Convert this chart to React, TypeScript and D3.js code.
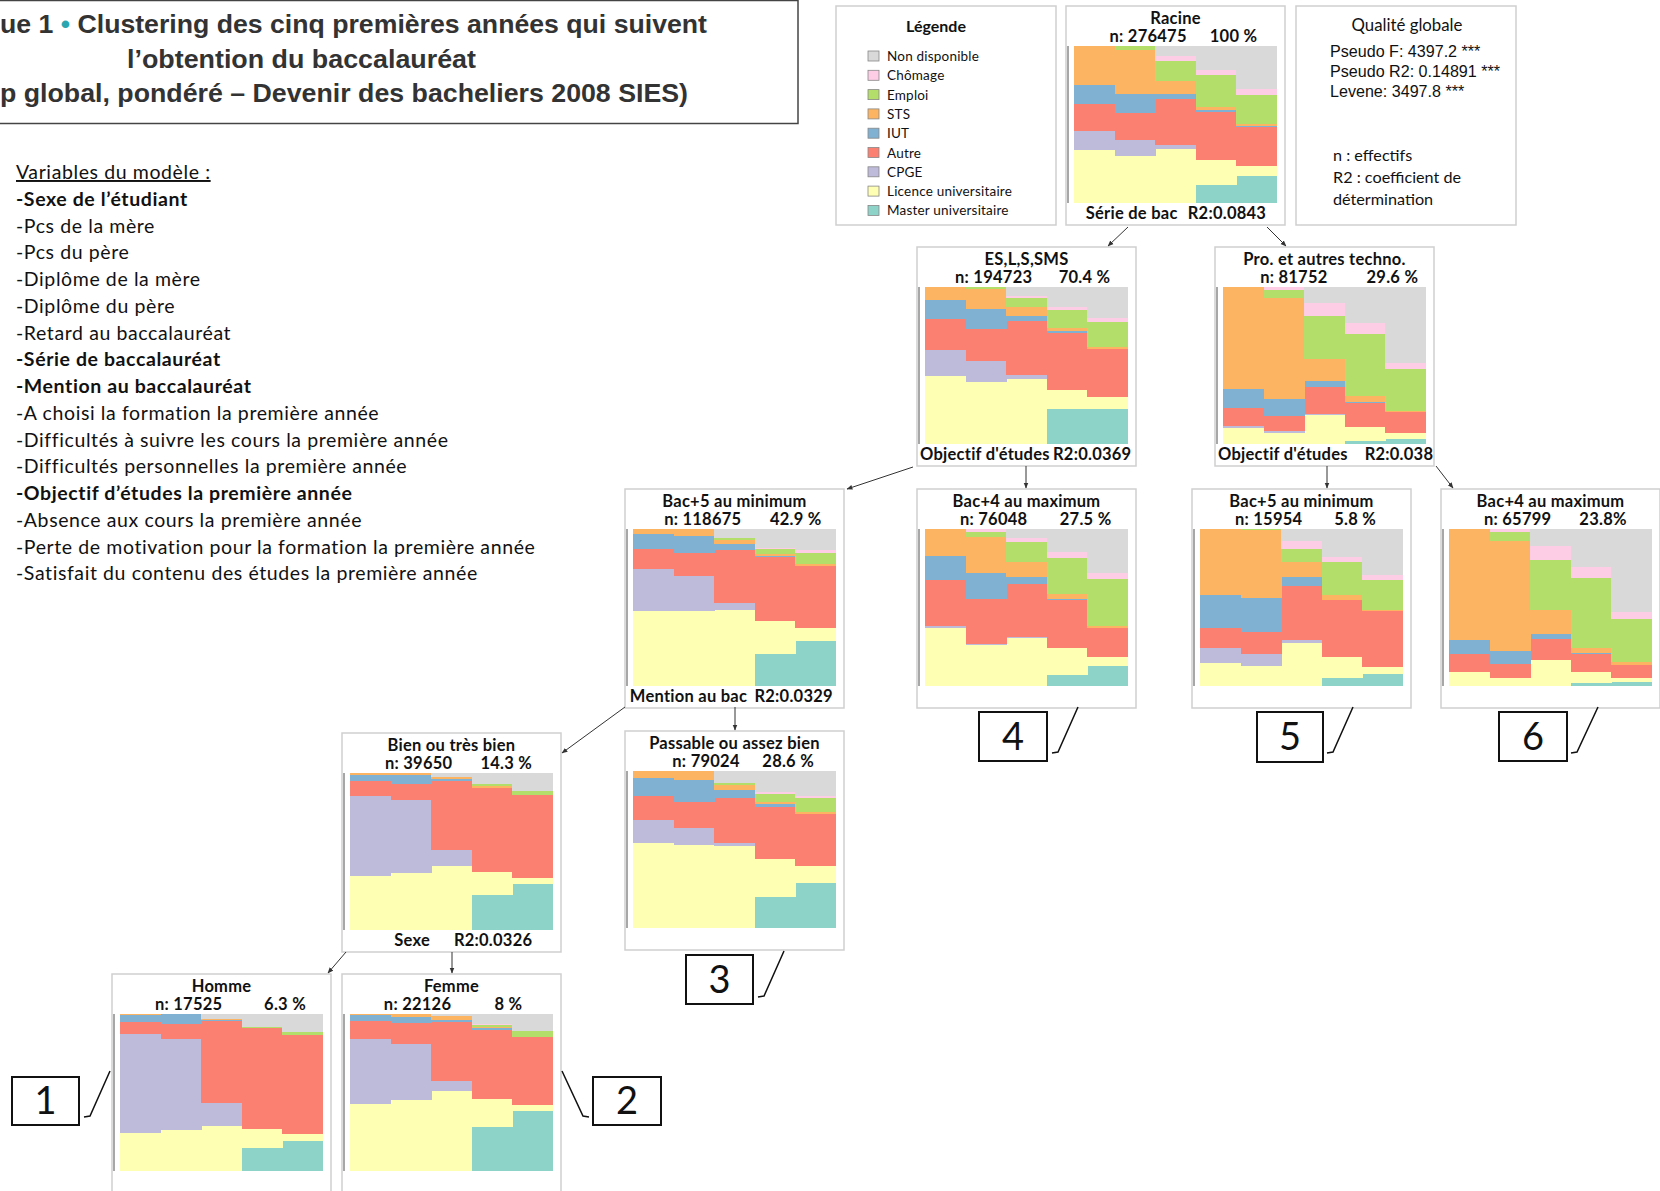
import React from 'react';
import * as d3 from 'd3';

// ---- states (bottom -> top stacking order) ----
const STATES = ['Master universitaire', 'Licence universitaire', 'CPGE', 'Autre', 'IUT', 'STS', 'Emploi', 'Chômage', 'Non disponible'];
const STATE_COLORS = ['#8DD3C7', '#FFFFB3', '#BEBADA', '#FB8072', '#80B1D3', '#FDB462', '#B3DE69', '#FCCDE5', '#D9D9D9'];
const YEARS = ['1', '2', '3', '4', '5'];

// ---- state distributions per node: 5 years x 9 states (Master, Licence, CPGE, Autre, IUT, STS, Emploi, Chômage, ND) ----
const racineSeq = [
  [0, .337, .123, .174, .117, .25, 0, 0, 0],
  [0, .30, .10, .172, .121, .282, .025, 0, 0],
  [0, .343, .028, .29, .036, .08, .127, .032, .064],
  [.117, .159, 0, .305, .011, .023, .199, .034, .153],
  [.169, .064, 0, .252, .006, .011, .186, .036, .275],
];
const esSeq = [
  [0, .432, .168, .196, .12, .084, 0, 0, 0],
  [0, .394, .137, .2, .128, .128, .013, 0, 0],
  [0, .415, .027, .341, .036, .055, .055, .013, .059],
  [.221, .122, 0, .364, .011, .019, .116, .019, .128],
  [.225, .074, 0, .309, 0, .013, .156, .023, .2],
];
const proSeq = [
  [0, .101, .015, .116, .116, .653, 0, 0, 0],
  [0, .069, .011, .099, .105, .648, .051, .017, 0],
  [0, .183, .006, .175, .036, .141, .274, .08, .105],
  [.021, .088, 0, .154, .006, .036, .396, .067, .232],
  [.032, .036, 0, .133, 0, .011, .267, .038, .484],
];
const bac5Seq = [
  [0, .475, .268, .133, .093, .032, 0, 0, 0],
  [0, .475, .226, .148, .105, .046, 0, 0, 0],
  [0, .481, .046, .342, .038, .021, .015, 0, .057],
  [.205, .211, 0, .403, .008, .013, .032, .004, .124],
  [.289, .08, 0, .397, 0, .011, .068, .019, .137],
];
const bac4Seq = [
  [0, .372, .011, .294, .154, .169, 0, 0, 0],
  [0, .262, .008, .285, .163, .233, .027, .021, 0],
  [0, .307, .006, .338, .042, .095, .127, .027, .057],
  [.07, .169, 0, .311, .006, .032, .228, .036, .148],
  [.127, .059, 0, .182, 0, .013, .298, .04, .281],
];
const techBac5Seq = [
  [0, .148, .091, .131, .207, .423, 0, 0, 0],
  [0, .129, .072, .14, .222, .431, .006, 0, 0],
  [0, .271, .025, .338, .059, .095, .085, .049, .078],
  [.049, .137, 0, .364, 0, .027, .211, .036, .175],
  [.076, .042, 0, .357, 0, .006, .195, .034, .29],
];
const techBac4Seq = [
  [0, .091, 0, .112, .089, .708, 0, 0, 0],
  [0, .049, 0, .091, .082, .7, .061, .017, 0],
  [0, .165, 0, .137, .027, .156, .317, .091, .106],
  [.017, .074, 0, .112, .008, .032, .444, .074, .239],
  [.027, .021, 0, .085, 0, .017, .279, .042, .529],
];
const bienSeq = [
  [0, .343, .509, .099, .038, .011, 0, 0, 0],
  [0, .364, .461, .107, .057, .011, 0, 0, 0],
  [0, .406, .103, .438, .017, .011, 0, 0, .025],
  [.221, .147, 0, .537, 0, .011, .015, 0, .069],
  [.295, .038, 0, .526, 0, 0, .025, 0, .116],
];
const passableSeq = [
  [0, .541, .147, .152, .118, .042, 0, 0, 0],
  [0, .531, .109, .164, .137, .059, 0, 0, 0],
  [0, .52, .021, .291, .046, .032, .017, 0, .074],
  [.2, .242, 0, .331, .015, .017, .048, .015, .133],
  [.288, .105, 0, .331, 0, .017, .084, .017, .158],
];
const hommeSeq = [
  [0, .244, .625, .078, .046, .006, 0, 0, 0],
  [0, .259, .583, .095, .063, 0, 0, 0, 0],
  [0, .288, .145, .52, .008, .006, 0, 0, .032],
  [.149, .12, 0, .64, 0, 0, .011, 0, .08],
  [.189, .044, 0, .632, 0, 0, .019, 0, .116],
];
const femmeSeq = [
  [0, .427, .415, .116, .034, .008, 0, 0, 0],
  [0, .453, .358, .133, .038, .019, 0, 0, 0],
  [0, .507, .067, .373, .017, .021, 0, 0, .015],
  [.28, .179, 0, .436, .013, .008, .013, .008, .063],
  [.381, .04, 0, .432, 0, 0, .038, 0, .109],
];

// ---- node labels ----
const NODE_IDS = ['racine', 'es', 'pro', 'b5', 'b4', 't5', 't4', 'bien', 'pass', 'homme', 'femme'];
const nodeTitles = ['Racine', 'ES,L,S,SMS', 'Pro. et autres techno.', 'Bac+5 au minimum', 'Bac+4 au maximum', 'Bac+5 au minimum', 'Bac+4 au maximum', 'Bien ou très bien', 'Passable ou assez bien', 'Homme', 'Femme'];
const nodeN = ['n: 276475', 'n: 194723', 'n: 81752', 'n: 118675', 'n: 76048', 'n: 15954', 'n: 65799', 'n: 39650', 'n: 79024', 'n: 17525', 'n: 22126'];
const nodePct = ['100 %', '70.4 %', '29.6 %', '42.9 %', '27.5 %', '5.8 %', '23.8%', '14.3 %', '28.6 %', '6.3 %', '8 %'];
const nodeSplit = ['Série de bac', "Objectif d'études", "Objectif d'études", 'Mention au bac', '', '', '', 'Sexe', '', '', ''];
const nodeR2 = ['R2:0.0843', 'R2:0.0369', 'R2:0.038', 'R2:0.0329', '', '', '', 'R2:0.0326', '', '', ''];
const nodeSeqs = [racineSeq, esSeq, proSeq, bac5Seq, bac4Seq, techBac5Seq, techBac4Seq, bienSeq, passableSeq, hommeSeq, femmeSeq];

const clusterNumbers = ['4', '5', '6', '3', '1', '2'];

const modelVariables = [
  '-Sexe de l’étudiant', '-Pcs de la mère', '-Pcs du père', '-Diplôme de la mère', '-Diplôme du père',
  '-Retard au baccalauréat', '-Série de baccalauréat', '-Mention au baccalauréat',
  '-A choisi la formation la première année', '-Difficultés à suivre les cours la première année',
  '-Difficultés personnelles la première année', '-Objectif d’études la première année',
  '-Absence aux cours la première année', '-Perte de motivation pour la formation la première année',
  '-Satisfait du contenu des études la première année',
];
const boldVariables = ['-Sexe de l’étudiant', '-Série de baccalauréat', '-Mention au baccalauréat', '-Objectif d’études la première année'];

const qualityLines = ['Pseudo F: 4397.2 ***', 'Pseudo R2: 0.14891 ***', 'Levene: 3497.8 ***'];
const noteLines = ['n : effectifs', 'R2 : coefficient de', 'détermination'];
const titleLines = ['ue 1 ', ' Clustering des cinq premières années qui suivent', 'l’obtention du baccalauréat', 'p global, pondéré – Devenir des bacheliers 2008 SIES)'];

// ---- layout (positions only) ----
const BOX_W = 219, BOX_H = 219;
const layout: Record<string, any> = {
  racine: { x: 1066, y: 6, nX: 0.375, pX: 0.765, sX: 0.30, rX: 0.735 },
  es: { x: 917, y: 247, nX: 0.35, pX: 0.765, sX: 0.31, rX: 0.80 },
  pro: { x: 1215, y: 247, nX: 0.36, pX: 0.81, sX: 0.31, rX: 0.84 },
  b5: { x: 625, y: 489, nX: 0.355, pX: 0.78, sX: 0.29, rX: 0.77 },
  b4: { x: 917, y: 489, nX: 0.35, pX: 0.77 },
  t5: { x: 1192, y: 489, nX: 0.35, pX: 0.745 },
  t4: { x: 1441, y: 489, nX: 0.35, pX: 0.74 },
  bien: { x: 342, y: 733, nX: 0.35, pX: 0.75, sX: 0.32, rX: 0.69 },
  pass: { x: 625, y: 731, nX: 0.37, pX: 0.745 },
  homme: { x: 112, y: 974, nX: 0.35, pX: 0.79 },
  femme: { x: 342, y: 974, nX: 0.345, pX: 0.76 },
};
const arrows = [
  [1128, 227, 1108, 246], [1267, 227, 1286, 246],
  [913, 467, 847, 489], [1026, 466, 1026, 488],
  [1327, 466, 1327, 488], [1436, 466, 1453, 488],
  [625, 707, 562, 753], [735, 707, 735, 730],
  [346, 952, 328, 973], [452, 952, 452, 973],
];
// number boxes: [x, y, w, h, slash x1, y1, x2, y2, hookDir]
const numberBoxes = [
  [979, 712, 68, 49, 1078, 707, 1058, 752, -1],
  [1257, 712, 66, 50, 1353, 707, 1333, 752, -1],
  [1499, 712, 68, 49, 1598, 707, 1577, 752, -1],
  [686, 955, 67, 49, 784, 951, 764, 996, -1],
  [12, 1077, 67, 48, 110, 1071, 90, 1116, -1],
  [593, 1077, 68, 48, 562, 1071, 583, 1116, 1],
];

const FONT = 'Lato, "Noto Sans", sans-serif';
const NODE_FS = 16.5;

function Node({ idx }: { idx: number }) {
  const id = NODE_IDS[idx];
  const L = layout[id];
  const px = L.x + 8, py = L.y + 40, pw = 203, ph = 157;
  const xs = d3.scaleBand<string>().domain(YEARS).range([px, px + pw]).padding(0);
  const ys = d3.scaleLinear().domain([0, 1]).range([py + ph, py]);
  const color = d3.scaleOrdinal<string, string>().domain(STATES).range(STATE_COLORS);
  const table = nodeSeqs[idx].map((col, i) => {
    const o: any = { year: YEARS[i] };
    STATES.forEach((s, j) => (o[s] = col[j]));
    return o;
  });
  const series = d3.stack<any>().keys(STATES).offset(d3.stackOffsetExpand)(table);
  const tp = { fontWeight: 'bold', fontSize: NODE_FS, fill: '#111', letterSpacing: 0.25, textAnchor: 'middle' as const };
  return (
    <g>
      <rect x={L.x} y={L.y} width={BOX_W} height={BOX_H} fill="#fff" stroke="#cfcfcf" strokeWidth={1.5} />
      {series.map((s) => (
        <g key={s.key} fill={color(s.key)}>
          {s.map((d: any, i: number) => (
            <rect key={i} x={xs(d.data.year)!} width={xs.bandwidth() + 0.4} y={ys(d[1])} height={Math.max(0, ys(d[0]) - ys(d[1]))} shapeRendering="crispEdges" />
          ))}
        </g>
      ))}
      <line x1={L.x + 2} x2={L.x + 2} y1={py} y2={py + ph} stroke="#8a8a8a" strokeWidth={1.5} />
      <text x={L.x + BOX_W / 2} y={L.y + 17.5} {...tp}>{nodeTitles[idx]}</text>
      <text x={L.x + BOX_W * L.nX} y={L.y + 35.5} {...tp}>{nodeN[idx]}</text>
      <text x={L.x + BOX_W * L.pX} y={L.y + 35.5} {...tp}>{nodePct[idx]}</text>
      {nodeSplit[idx] && (
        <>
          <text x={L.x + BOX_W * L.sX} y={L.y + 212.5} {...tp}>{nodeSplit[idx]}</text>
          <text x={L.x + BOX_W * L.rX} y={L.y + 212.5} {...tp}>{nodeR2[idx]}</text>
        </>
      )}
    </g>
  );
}

export default function App() {
  const legendStates = [...STATES].reverse();
  const legendColors = [...STATE_COLORS].reverse();
  return (
    <svg width={1660} height={1191} style={{ position: 'absolute', left: 0, top: 0 }} fontFamily={FONT}>
      <defs>
        <marker id="arr" viewBox="0 0 10 10" refX="9" refY="5" markerWidth="6" markerHeight="6" orient="auto">
          <path d="M0,1 L10,5 L0,9 z" fill="#333" />
        </marker>
      </defs>
      <rect x={0} y={0} width={1660} height={1191} fill="#fff" />

      {/* Title box */}
      <rect x={-3} y={0.5} width={801} height={123} fill="#fff" stroke="#444" strokeWidth={1.5} />
      <g fontFamily='"Liberation Sans", Arial, sans-serif' fontWeight="bold" fontSize={26} fill="#333">
        <text x={0} y={33} textLength={707} lengthAdjust="spacingAndGlyphs">
          {titleLines[0]}<tspan fill="#2aa6b0">•</tspan>{titleLines[1]}
        </text>
        <text x={127} y={68} textLength={349} lengthAdjust="spacingAndGlyphs">{titleLines[2]}</text>
        <text x={0} y={102} textLength={688} lengthAdjust="spacingAndGlyphs">{titleLines[3]}</text>
      </g>

      {/* Model variables */}
      <g fontSize={19.5} fill="#111" letterSpacing={0.6}>
        <text x={16} y={179} textDecoration="underline">Variables du modèle :</text>
        {modelVariables.map((v, i) => (
          <text key={v} x={16} y={179 + (i + 1) * 26.75} fontWeight={boldVariables.includes(v) ? 'bold' : 'normal'}>{v}</text>
        ))}
      </g>

      {/* Legend */}
      <rect x={836} y={6} width={220} height={219} fill="#fff" stroke="#cfcfcf" strokeWidth={1.5} />
      <text x={936} y={32} textAnchor="middle" fontWeight="bold" fontSize={16} fill="#111">Légende</text>
      {legendStates.map((s, i) => (
        <g key={s}>
          <rect x={868} y={51 + i * 19.3} width={11} height={10} fill={legendColors[i]} stroke="#888" strokeWidth={0.8} />
          <text x={887} y={61 + i * 19.3} fontSize={13.5} letterSpacing={0.2} fill="#111">{s}</text>
        </g>
      ))}

      {/* Qualité globale */}
      <rect x={1296} y={6} width={220} height={219} fill="#fff" stroke="#cfcfcf" strokeWidth={1.5} />
      <text x={1407} y={30.5} textAnchor="middle" fontSize={16.8} fill="#111">Qualité globale</text>
      {qualityLines.map((q, i) => (
        <text key={q} x={1330} y={56.5 + i * 20} fontSize={16.1} fontFamily='"Liberation Sans", Arial, sans-serif' fill="#111">{q}</text>
      ))}
      {noteLines.map((q, i) => (
        <text key={q} x={1333} y={160.5 + i * 22} fontSize={16.2} fill="#111">{q}</text>
      ))}

      {/* Nodes */}
      {NODE_IDS.map((id, i) => <Node key={id} idx={i} />)}

      {/* Arrows */}
      {arrows.map((a, i) => (
        <line key={i} x1={a[0]} y1={a[1]} x2={a[2]} y2={a[3]} stroke="#333" strokeWidth={1} markerEnd="url(#arr)" />
      ))}

      {/* Cluster numbers */}
      {numberBoxes.map((b, i) => (
        <g key={i}>
          <rect x={b[0]} y={b[1]} width={b[2]} height={b[3]} fill="#fff" stroke="#111" strokeWidth={2} />
          <text x={b[0] + b[2] / 2} y={b[1] + b[3] / 2 + 13} textAnchor="middle" fontSize={38} fill="#111">{clusterNumbers[i]}</text>
          <polyline points={`${b[4]},${b[5]} ${b[6]},${b[7]} ${b[6] + b[8] * 6},${b[7] + 1}`} fill="none" stroke="#111" strokeWidth={1.5} />
        </g>
      ))}
    </svg>
  );
}
